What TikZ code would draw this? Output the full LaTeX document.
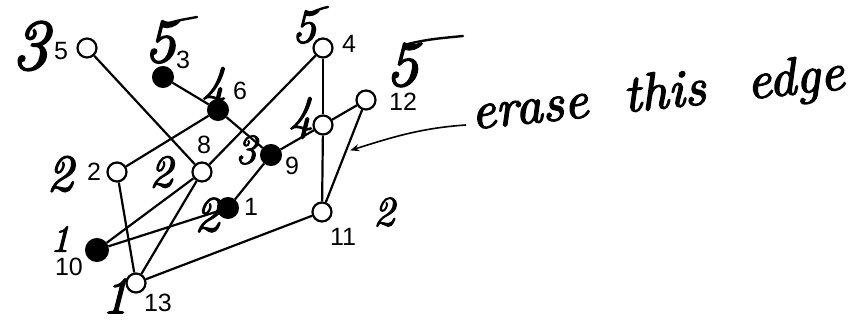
\documentclass[tikz,border=0pt]{standalone}
\usepackage{fontspec}
\newfontfamily\labelfont{Liberation Sans}
\newfontfamily\handfont{lmroman10-italic.otf}[FakeBold=2.5]
\usetikzlibrary{arrows.meta,calc}
\begin{document}
\begin{tikzpicture}[x=1pt,y=-1pt,
  open/.style={circle,draw,line width=2.2pt,minimum size=19pt,inner sep=0pt,fill=white},
  filled/.style={circle,draw,fill=black,line width=2pt,minimum size=20pt,inner sep=0pt},
  edge/.style={line width=2.2pt},
  lab/.style={font=\labelfont\fontsize{25}{25}\selectfont,inner sep=0pt},
  hand/.style={font=\handfont\fontsize{#1}{#1}\selectfont,inner sep=0pt},
  pen/.style={line width=2.4pt,line cap=round},
  note/.style={font=\handfont\fontsize{53}{53}\selectfont,inner sep=0pt,anchor=base,rotate=6}]
\useasboundingbox (0,0) rectangle (868,323);
% nodes
\node[open]   (n5)  at (87,48)  {};
\node[filled] (n3)  at (163,77) {};
\node[filled] (n6)  at (218,110) {};
\node[open]   (n4)  at (323,48) {};
\node[open]   (n12) at (366,100) {};
\node[open]   (n7)  at (323,125) {};
\node[filled] (n9)  at (271,155) {};
\node[open]   (n8)  at (202,172) {};
\node[open]   (n2)  at (117,172) {};
\node[filled] (n1)  at (228,208) {};
\node[open]   (n11) at (322,212) {};
\node[filled,minimum size=22pt] (n10) at (97,250) {};
\node[open]   (n13) at (136,283) {};
% edges
\draw[edge] (n5) -- (n8);
\draw[edge] (n3) -- (n6);
\draw[edge] (n6) -- (n9);
\draw[edge] (n6) -- (n2);
\draw[edge] (n4) -- (n8);
\draw[edge] (n4) -- (n7);
\draw[edge] (n7) -- (n11);
\draw[edge] (n7) -- (n12);
\draw[edge] (n7) -- (n9);
\draw[edge] (n12) -- (n11);
\draw[edge] (n9) -- (n1);
\draw[edge] (n2) -- (n13);
\draw[edge] (n8) -- (n10);
\draw[edge] (n8) -- (n13);
\draw[edge] (n10) -- (n1);
\draw[edge] (n13) -- (n11);
% printed labels
\node[lab] (l5)  at (61,51)  {5};
\node[lab] (l3)  at (183,60) {3};
\node[lab] (l6)  at (240,91) {6};
\node[lab] (l8)  at (204,145) {8};
\node[lab] (l4)  at (349,44) {4};
\node[lab] (l12) at (403,102) {12};
\node[lab] (l9)  at (292,166) {9};
\node[lab] (l2)  at (94,172) {2};
\node[lab] (l1)  at (251,207) {1};
\node[lab] (l11) at (343,237) {11};
\node[lab] (l10) at (69,267) {10};
\node[lab] (l13) at (158,303) {13};
% handwritten numbers
\node[hand=72] (h5)  at (30,46)  {3};
\node[hand=62] (h3)  at (160,42) {5};
\node[hand=48] (h4)  at (304,27) {5};
\node[hand=64] (h12) at (402,65) {5};
\node[hand=48] (h6)  at (214,88) {4};
\node[hand=48] (h7)  at (301,118) {4};
\node[hand=42] (h9)  at (246,150) {3};
\node[hand=46] (h8)  at (161,172) {2};
\node[hand=52] (h2)  at (60,174) {2};
\node[hand=50] (h1)  at (207,215) {2};
\node[hand=42] (h11) at (384,212) {2};
\node[hand=38] (h10) at (60,239) {1};
\node[hand=52] (h13) at (115,296) {1};
% extended top strokes of the handwritten fives
\draw[pen] ([shift={(6,-18)}]h3.center) .. controls +(12,-4) and +(-10,2) .. ([shift={(37,-25)}]h3.center);
\draw[pen] ([shift={(6,-14)}]h4.center) .. controls +(8,-3) and +(-6,1) .. ([shift={(24,-20)}]h4.center);
\draw[pen] ([shift={(6,-21)}]h12.center) .. controls +(20,-5) and +(-20,2) .. ([shift={(61,-29)}]h12.center);
% note
\node[note] (w1) at (531,123) {erase};
\node[note] (w2) at (666,108) {this};
\node[note] (w3) at (797,94) {edge};
\coordinate (tip) at ($(n12)!0.45!(n11)+(4,0)$);
\draw[line width=1.6pt,-{Stealth[length=9pt,width=7pt]}] (466,125) .. controls (420,128) and (390,138) .. (tip);
\end{tikzpicture}
\end{document}
